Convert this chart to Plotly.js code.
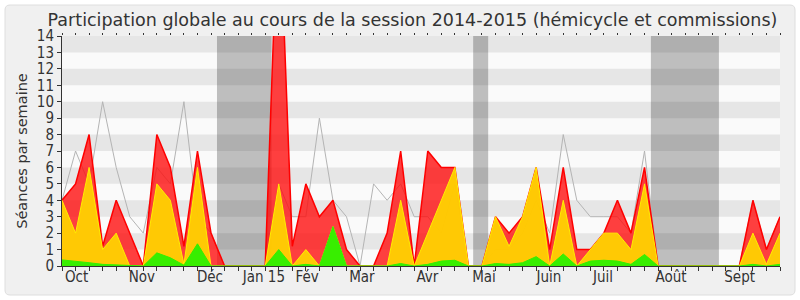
<!DOCTYPE html>
<html>
<head>
<meta charset="utf-8">
<script src="https://cdn.plot.ly/plotly-3.0.1.min.js"></script>
<style>html,body{margin:0;padding:0;background:#fff;}#chart{width:800px;height:300px;}</style>
</head>
<body>
<div id="chart"></div>
<script>
// week index 0..53 (weekly points, late Sept 2014 -> end Sept 2015)
const weeks = [];
for (let i = 0; i <= 53; i++) weeks.push(i);

// top of red area (total participation)
const totalRed = [4,5,8,1.2,4,2,0,8,6,1.2,7,2,0,0,0,0,23,1.2,5,3,4,1,0,0,2,7,0,7,6,6,0,0,3,2,3,6,1,6,1,1,2,4,2,6,0,0,0,0,0,0,0,4,1,3];
// top of yellow area
const totalYellow = [4,2,6,1,2,0,0,5,4,0.1,6,0,0,0,0,0,5,0,1,0,2.4,0,0,0,0,4,0,2,4,6,0,0,3,1.2,3,6,0,4,0,1,2,2,1,5,0,0,0,0,0,0,0,2,0.1,2];
// top of green area
const totalGreen = [0.37,0.3,0.2,0.1,0.08,0.05,0,0.8,0.5,0.05,1.35,0,0,0,0,0,1,0,0.1,0,2.4,0,0,0,0,0.15,0,0.1,0.3,0.35,0,0,0.15,0.1,0.2,0.57,0,0.73,0,0.3,0.35,0.3,0.1,0.7,0,0,0,0,0,0,0,0.1,0,0.1];
// grey reference line
const greyLine = [4,7,5,10,6,3,2,6,5,10,3,2,0,0,0,0,5,3,3,9,4,3,0,5,4,5,3,3,2,5,0,0,1,1,2,4,2,8,4,3,3,3,2,7,0,0,0,0,0,0,0,4,1,3];

const monthLabels = ["Oct","Nov","Déc","Jan 15","Fév","Mar","Avr","Mai","Juin","Juil","Août","Sept"];
const monthPos = [1.08,5.9,10.92,14.9,18.1,22.14,26.97,31.15,35.94,39.93,44.95,50.02];

const vacStart = [11.44,30.35,43.47];
const vacEnd = [15.47,31.46,48.49];

const yTicks = [];
for (let v = 0; v <= 14; v++) yTicks.push(v);

const FONT = '"DejaVu Sans Condensed", "DejaVu Sans", sans-serif';
const FONT_REG = '"DejaVu Sans", sans-serif';

// geometry helpers (paper coords of the figure box)
const L = 62, R = 20, T = 36, B = 34, W = 800, H = 300;
const pw = W - L - R, ph = H - T - B;
function px(x) { return (x - L) / pw; }
function py(y) { return (H - B - y) / ph; }
const rx = 5 / pw, ry = 5 / ph;
const bx0 = px(5), bx1 = px(795), by0 = py(295), by1 = py(5);
const boxPath = `M ${bx0+rx},${by1} L ${bx1-rx},${by1} Q ${bx1},${by1} ${bx1},${by1-ry} L ${bx1},${by0+ry} Q ${bx1},${by0} ${bx1-rx},${by0} L ${bx0+rx},${by0} Q ${bx0},${by0} ${bx0},${by0+ry} L ${bx0},${by1-ry} Q ${bx0},${by1} ${bx0+rx},${by1} Z`;

const shapes = [];
shapes.push({type:'path', xref:'paper', yref:'paper', path: boxPath, fillcolor:'#f0f0f0', line:{color:'#dedede', width:1}, layer:'below'});
shapes.push({type:'rect', xref:'paper', yref:'paper', x0:0, x1:1, y0:0, y1:1, fillcolor:'#fafafa', line:{width:0}, layer:'below'});
for (let k = 0; k < vacStart.length; k++) {
  shapes.push({type:'rect', xref:'x', yref:'paper', x0:vacStart[k], x1:vacEnd[k], y0:0, y1:1, fillcolor:'#bebebe', line:{width:0}, layer:'below'});
}
for (let k = 1; k < 14; k += 2) {
  shapes.push({type:'rect', xref:'x', yref:'y', x0:0, x1:53, y0:k, y1:k+1, fillcolor:'rgba(0,0,0,0.08)', line:{width:0}, layer:'below'});
}

const traces = [
  {x: weeks, y: greyLine, type:'scatter', mode:'lines', line:{color:'#b4b4b4', width:1}, hoverinfo:'skip', showlegend:false},
  {x: weeks, y: totalRed, type:'scatter', mode:'lines', fill:'tozeroy', fillcolor:'rgba(255,10,10,0.78)', line:{color:'#ff0000', width:1.5}, hoverinfo:'skip', showlegend:false},
  {x: weeks, y: totalYellow, type:'scatter', mode:'lines', fill:'tozeroy', fillcolor:'rgba(255,212,0,0.93)', line:{color:'#ffee00', width:1}, hoverinfo:'skip', showlegend:false},
  {x: weeks, y: totalGreen, type:'scatter', mode:'lines', fill:'tozeroy', fillcolor:'rgba(45,240,0,0.95)', line:{color:'#33ee00', width:1}, hoverinfo:'skip', showlegend:false},
  {x: [0], y: [0], xaxis:'x2', type:'scatter', mode:'markers', marker:{opacity:0}, hoverinfo:'skip', showlegend:false},
  {x: [0], y: [0], xaxis:'x3', type:'scatter', mode:'markers', marker:{opacity:0}, hoverinfo:'skip', showlegend:false}
];

const layout = {
  width: W, height: H,
  margin: {l: L, r: R, t: T, b: B, pad: 0},
  paper_bgcolor: '#ffffff',
  plot_bgcolor: 'rgba(0,0,0,0)',
  font: {family: FONT, color: '#333333', size: 15},
  title: {text: 'Participation globale au cours de la session 2014-2015 (hémicycle et commissions)',
          font: {family: FONT_REG, size: 17.5, color: '#333333'},
          x: 0.5156, xanchor: 'center', xref: 'container', y: 0.935, yanchor: 'middle', yref: 'container'},
  xaxis: {range: [0, 53], tickvals: weeks, ticktext: weeks.map(() => ''), ticks: 'outside', ticklen: 4, tickcolor: '#333', tickwidth: 1,
          showline: true, linecolor: '#333', linewidth: 1, showgrid: false, zeroline: false, fixedrange: true},
  xaxis2: {overlaying: 'x', range: [0, 53], tickvals: monthPos, ticktext: monthLabels, ticks: '', showline: false, showgrid: false,
           zeroline: false, tickfont: {family: FONT, size: 15, color: '#333'}, side: 'bottom', anchor: 'y', fixedrange: true},
  xaxis3: {overlaying: 'x', range: [0, 53], tickvals: weeks, ticktext: weeks.map(() => ''), ticks: 'outside', ticklen: 2, tickcolor: '#333', tickwidth: 1,
           side: 'top', anchor: 'y', showline: false, showgrid: false, zeroline: false, fixedrange: true},
  yaxis: {range: [0, 14], tickvals: yTicks, ticks: 'outside', ticklen: 4, tickcolor: '#333', showline: true, linecolor: '#333', linewidth: 1,
          showgrid: false, zeroline: false, tickfont: {family: FONT, size: 15, color: '#333'},
          title: {text: 'Séances par semaine', font: {family: FONT_REG, size: 14.5, color: '#333'}, standoff: 5}, fixedrange: true},
  shapes: shapes,
  showlegend: false
};

Plotly.newPlot('chart', traces, layout, {staticPlot: true, displayModeBar: false});
</script>
</body>
</html>
